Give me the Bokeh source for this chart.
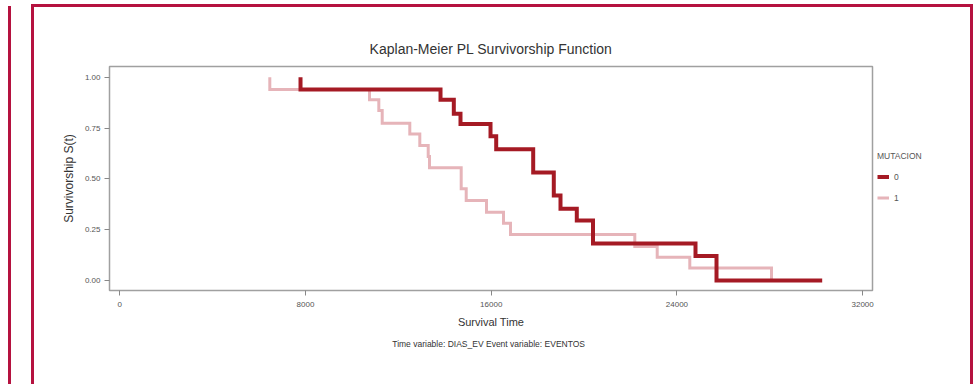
from bokeh.plotting import figure
from bokeh.models import (Range1d, FixedTicker, NumeralTickFormatter, Legend, LegendItem, Title)
from bokeh.embed import file_html
from bokeh.resources import INLINE

# ---- data ----
km0_time = [7785, 7785, 13816, 14389, 14677, 15970, 16215, 17809, 18696, 18985, 19687,
            20385, 24801, 25706, 30259]
km0_surv = [1.0, 0.9395, 0.889, 0.820, 0.770, 0.709, 0.646, 0.531, 0.418, 0.353, 0.295,
            0.182, 0.1205, 0.0, 0.0]

km1_time = [6462, 6462, 10757, 11158, 11304, 12493, 12924, 13286, 13342, 14707, 14923,
            15797, 16530, 16831, 22186, 23151, 24555, 28075]
km1_surv = [1.0, 0.94, 0.889, 0.836, 0.774, 0.721, 0.664, 0.610, 0.554, 0.451, 0.394,
            0.336, 0.282, 0.226, 0.167, 0.114, 0.062, 0.0]

x_ticks = [0, 8000, 16000, 24000, 32000]
y_ticks = [0.0, 0.25, 0.5, 0.75, 1.0]
group_labels = ["0", "1"]
legend_title = "MUTACION"

FONT = "Liberation Sans"
DARK = "#A51A24"
LIGHT = "#E6B4B9"
CRIMSON = "#B5123F"
GRAY_TXT = "#555555"

bar = "linear-gradient(%s,%s)" % (CRIMSON, CRIMSON)
page_bg = ", ".join([
    bar + " 8px 6px / 3px 378px no-repeat",
    bar + " 31px 4px / 3px 380px no-repeat",
    bar + " 31px 4px / 942px 3px no-repeat",
    bar + " 970px 4px / 3px 380px no-repeat",
    "#ffffff",
])

p = figure(frame_width=763, frame_height=224, output_backend="svg", toolbar_location=None,
           x_range=Range1d(-444, 32426), y_range=Range1d(-0.0492, 1.0526),
           min_border_left=109, min_border_right=103, min_border_top=66, min_border_bottom=94,
           background_fill_color="white", border_fill_color=None,
           styles={"background": page_bg})

p.xgrid.visible = False
p.ygrid.visible = False
p.outline_line_color = "#A0A0A0"
p.outline_line_width = 1.5

# title
p.title.text = "Kaplan-Meier PL Survivorship Function"
p.title.align = "center"
p.title.text_font = FONT
p.title.text_font_size = "14px"
p.title.text_font_style = "normal"
p.title.text_color = "#333333"
p.title.standoff = 19

# axes
for ax in (p.xaxis[0], p.yaxis[0]):
    ax.axis_line_color = None
    ax.major_tick_in = 0
    ax.major_tick_out = 5
    ax.minor_tick_line_color = None
    ax.major_tick_line_color = "#888888"
    ax.major_label_text_font = FONT
    ax.major_label_text_font_size = "8px"
    ax.major_label_text_color = GRAY_TXT
    ax.axis_label_text_font = FONT
    ax.axis_label_text_font_style = "normal"
    ax.axis_label_text_color = "#333333"

p.xaxis.ticker = FixedTicker(ticks=x_ticks)
p.xaxis.formatter = NumeralTickFormatter(format="0")
p.xaxis.axis_label = "Survival Time"
p.xaxis.axis_label_text_font_size = "11px"
p.xaxis.major_label_standoff = 6
p.xaxis.axis_label_standoff = 6

p.yaxis.ticker = FixedTicker(ticks=y_ticks)
p.yaxis.formatter = NumeralTickFormatter(format="0.00")
p.yaxis.axis_label = "Survivorship S(t)"
p.yaxis.axis_label_text_font_size = "12px"
p.yaxis.major_label_standoff = 4
p.yaxis.axis_label_standoff = 6

# footnote
foot = Title(text="Time variable: DIAS_EV   Event variable: EVENTOS", align="center",
             text_font=FONT, text_font_size="8.5px", text_font_style="normal",
             text_color="#333333", standoff=13)
p.add_layout(foot, "below")

# curves
r0 = p.step(km0_time, km0_surv, mode="after", line_color=DARK, line_width=4,
            line_join="miter")
r1 = p.step(km1_time, km1_surv, mode="after", line_color=LIGHT, line_width=3,
            line_join="miter")
# dark curve drawn on top
p.renderers = [r1, r0]

legend = Legend(items=[LegendItem(label=group_labels[0], renderers=[r0]),
                       LegendItem(label=group_labels[1], renderers=[r1])],
                title=legend_title, title_text_font=FONT, title_text_font_size="8.5px",
                title_text_font_style="normal", title_text_color=GRAY_TXT,
                title_standoff=8,
                location="center_left", padding=0, margin=5, border_line_color=None,
                background_fill_alpha=0, glyph_width=12, glyph_height=16,
                label_height=16, label_standoff=5, spacing=5,
                label_text_font=FONT, label_text_font_size="8.5px",
                label_text_color=GRAY_TXT)
p.add_layout(legend, "right")

open("out.html", "w").write(file_html(p, INLINE))
